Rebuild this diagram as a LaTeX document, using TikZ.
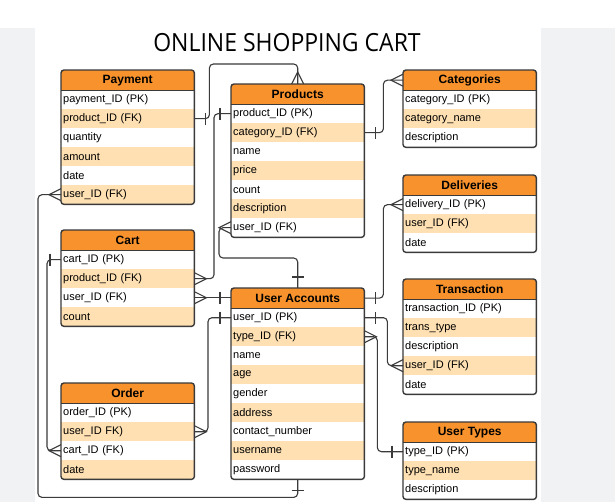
\documentclass[tikz,border=0pt]{standalone}
\usepackage{fontspec}
\setmainfont{Liberation Sans}
\newfontfamily\titlefont{Open Sans}
\definecolor{hdrorange}{RGB}{247,146,44}
\definecolor{rowpeach}{RGB}{254,224,178}
\definecolor{tblline}{RGB}{58,58,58}
\definecolor{pagegray}{RGB}{241,242,244}
\tikzset{
  tblhead/.style={anchor=north west, fill=hdrorange, minimum width=133pt, minimum height=20pt, inner sep=0pt, font=\bfseries\fontsize{12}{14}\selectfont},
  tblrow/.style={anchor=north west, text width=129pt, inner xsep=2pt, inner ysep=0pt, minimum height=19pt, align=left, font=\fontsize{11}{13}\selectfont},
  tblborder/.style={draw=tblline, line width=1.4pt, rounded corners=3pt},
  erline/.style={draw=tblline, line width=1.1pt},
  erlink/.style={erline, rounded corners=4pt},
  crowfoot/.pic={\draw[erline] (0,-6) -- (-12,0) -- (0,6);},
  onebar/.pic={\draw[erline] (-11,-6) -- (-11,6);}
}
% one table: name, x, y, title, fields
\newcommand{\ertable}[5]{%
  \node[tblhead] (#1-h) at (#2,#3) {#4};
  \foreach \fld [count=\i] in {#5} {
    \ifodd\i \def\rowfill{white}\else\def\rowfill{rowpeach}\fi
    \node[tblrow, fill=\rowfill] (#1-\i) at (#2,{#3+1+19*\i}) {\fld};
    \xdef\nrows{\i}
  }
  \draw[tblborder] (#1-h.north west) rectangle (#1-\nrows.south east);
  \draw[tblline, line width=1.4pt] (#1-h.south west) -- (#1-h.south east);
}

\begin{document}
\begin{tikzpicture}[x=1pt, y=-1pt]
  \useasboundingbox (0,0) rectangle (615,502);
  \fill[pagegray] (0,28) rectangle (615,502);
  \fill[white] (35,28) rectangle (541,502);

  \node[font=\titlefont\fontsize{25}{30}\selectfont] (title) at (287,43) {\scalebox{0.92}[1]{ONLINE SHOPPING CART}};

  \ertable{pay}{61}{70}{Payment}{payment\_ID (PK), product\_ID (FK), quantity, amount, date, user\_ID (FK)}
  \ertable{prd}{231}{84}{Products}{product\_ID (PK), category\_ID (FK), name, price, count, description, user\_ID (FK)}
  \ertable{cat}{403}{70}{Categories}{category\_ID (PK), category\_name, description}
  \ertable{dlv}{403}{175}{Deliveries}{delivery\_ID (PK), user\_ID (FK), date}
  \ertable{crt}{61}{230}{Cart}{cart\_ID (PK), product\_ID (FK), user\_ID (FK), count}
  \ertable{ua}{231}{288}{User Accounts}{user\_ID (PK), type\_ID (FK), name, age, gender, address, contact\_number, username, password}
  \ertable{trn}{403}{279}{Transaction}{transaction\_ID (PK), trans\_type, description, user\_ID (FK), date}
  \ertable{typ}{403}{422}{User Types}{type\_ID (PK), type\_name, description}
  \ertable{ord}{61}{383}{Order}{order\_ID (PK), user\_ID FK), cart\_ID (FK), date}

  % relations
  \draw[erlink] (pay-2.east) -- ++(15,0) |- ([yshift=20pt]prd-h.north) -- (prd-h.north);
  \pic at (pay-2.east) [rotate=180] {onebar};
  \pic at (prd-h.north) [rotate=-90] {crowfoot};

  \draw[erlink] (prd-1.west) -- ++(-17,0) |- (crt-2.east);
  \pic at (prd-1.west) {onebar};
  \pic at (crt-2.east) [rotate=180] {crowfoot};

  \draw[erlink] (prd-2.east) -- ++(19,0) |- (cat-h.west);
  \pic at (prd-2.east) [rotate=180] {onebar};
  \pic at (cat-h.west) {crowfoot};

  \draw[erlink] (prd-7.west) -- ++(-12,0) |- ([yshift=30pt]ua-h.north) -- (ua-h.north);
  \pic at (prd-7.west) {crowfoot};
  \pic at (ua-h.north) [rotate=-90] {onebar};

  \draw[erlink] (crt-3.east) -- (crt-3.east -| ua-h.west);
  \pic at (crt-3.east) [rotate=180] {crowfoot};
  \pic at (crt-3.east -| ua-h.west) {onebar};

  \draw[erlink] (ua-1.west) -- ++(-23,0) |- (ord-2.east);
  \pic at (ua-1.west) {onebar};
  \pic at (ord-2.east) [rotate=180] {crowfoot};

  \draw[erlink] (crt-1.west) -- ++(-14,0) |- (ord-3.west);
  \pic at (crt-1.west) {onebar};
  \pic at (ord-3.west) {crowfoot};

  \draw[erlink] (pay-6.west) -- ++(-23,0) |- ([yshift=-18pt]ua-9.south) -- (ua-9.south);
  \pic at (pay-6.west) {crowfoot};
  \pic at (ua-9.south) [rotate=90] {onebar};

  \draw[erlink] (ua-h.east) -- ++(19,0) |- (dlv-1.west);
  \pic at (ua-h.east) [rotate=180] {onebar};
  \pic at (dlv-1.west) {crowfoot};

  \draw[erlink] (ua-1.east) -- ++(23,0) |- (trn-4.west);
  \pic at (ua-1.east) [rotate=180] {onebar};
  \pic at (trn-4.west) {crowfoot};

  \draw[erlink] (ua-2.east) -- ++(13,0) |- (typ-1.west);
  \pic at (ua-2.east) [rotate=180] {crowfoot};
  \pic at (typ-1.west) {onebar};
\end{tikzpicture}
\end{document}
